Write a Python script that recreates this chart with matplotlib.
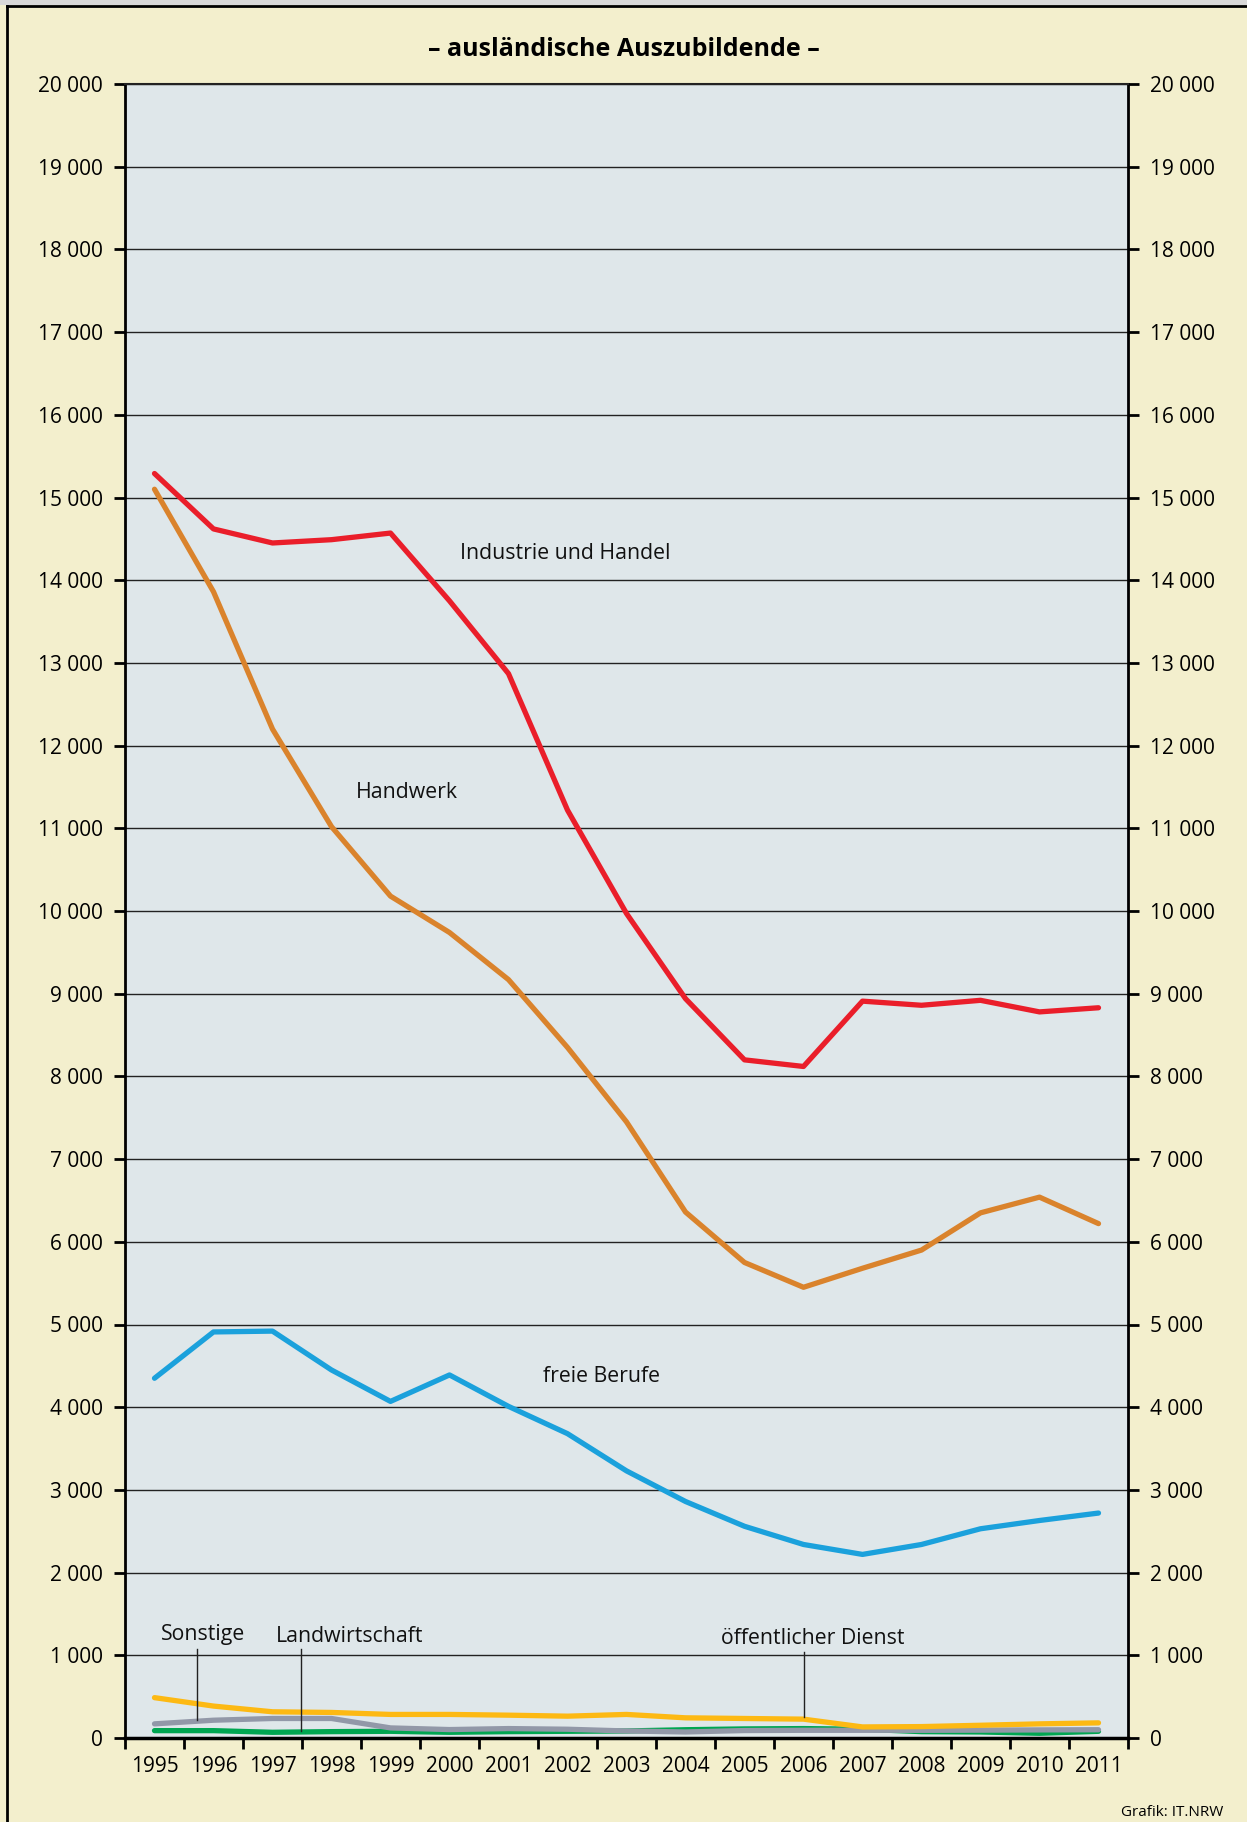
import numpy as np
import matplotlib.pyplot as plt
from matplotlib.lines import Line2D
from matplotlib.patches import Rectangle

plt.rcParams['font.family'] = ['Open Sans', 'DejaVu Sans']

years = ['1995', '1996', '1997', '1998', '1999', '2000', '2001', '2002', '2003',
         '2004', '2005', '2006', '2007', '2008', '2009', '2010', '2011']

industrie = [15290, 14620, 14450, 14490, 14570, 13750, 12870, 11220, 9970,
             8940, 8200, 8120, 8910, 8860, 8920, 8780, 8830]
handwerk = [15100, 13860, 12200, 11020, 10180, 9740, 9170, 8350, 7450,
            6360, 5750, 5450, 5680, 5900, 6350, 6540, 6220]
freie_berufe = [4350, 4910, 4920, 4450, 4070, 4390, 4010, 3680, 3230,
                2860, 2560, 2340, 2220, 2340, 2530, 2630, 2720]
oeffentlich = [488, 386, 317, 309, 285, 285, 276, 264, 285,
               244, 236, 228, 134, 138, 154, 171, 183]
sonstige = [171, 215, 236, 236, 122, 102, 114, 106, 85,
            73, 90, 93, 93, 93, 95, 98, 100]
landwirtschaft = [89, 89, 69, 77, 81, 69, 77, 81, 85,
                  100, 110, 114, 106, 77, 73, 57, 81]

yticks = np.arange(0, 20001, 1000)
ytick_labels = ['0' if v == 0 else '{:,}'.format(v).replace(',', ' ') for v in yticks]

bg_fig = '#F3EFCD'
bg_ax = '#DFE7EA'

fig = plt.figure(figsize=(12.47, 18.22), dpi=100, facecolor=bg_fig)
ax = fig.add_axes([125 / 1247, 1 - 1738 / 1822, 1003 / 1247, 1654 / 1822])
ax.set_facecolor(bg_ax)

x = np.arange(len(years))
lw = 3.8
ax.plot(x, landwirtschaft, color='#00A651', lw=lw, solid_capstyle='round', zorder=3)
ax.plot(x, sonstige, color='#9298A8', lw=lw, solid_capstyle='round', zorder=3)
ax.plot(x, oeffentlich, color='#FDB913', lw=lw, solid_capstyle='round', zorder=3)
ax.plot(x, freie_berufe, color='#1BA1DC', lw=lw, solid_capstyle='round', zorder=3)
ax.plot(x, handwerk, color='#DA832C', lw=lw, solid_capstyle='round', zorder=3)
ax.plot(x, industrie, color='#EA1E2A', lw=lw, solid_capstyle='round', zorder=4)

ax.set_xlim(-0.5, len(years) - 0.5)
ax.set_ylim(0, 20000)

# year labels centred, tick marks between years
ax.set_xticks(np.arange(-0.5, len(years)), minor=False)
ax.set_xticklabels([])
ax.set_xticks(x, minor=True)
ax.set_xticklabels(years, minor=True, fontsize=15)
ax.tick_params(axis='x', which='major', direction='out', length=8, width=2)
ax.tick_params(axis='x', which='minor', length=0, pad=13)

ax.set_yticks(yticks)
ax.set_yticklabels(ytick_labels, fontsize=15)
ax.tick_params(axis='y', which='both', direction='out', length=8, width=2,
               left=True, right=True, labelleft=True, labelright=True, pad=8)

ax.grid(axis='y', color='#222222', lw=1)
ax.set_axisbelow(True)
for side in ['left', 'right']:
    ax.spines[side].set_linewidth(2)
ax.spines['bottom'].set_linewidth(2.5)
ax.spines['top'].set_linewidth(1.5)
ax.spines['top'].set_color('#222222')

# series labels
lab = dict(fontsize=15.3, color='#111111', va='center', ha='left')
ax.text(5.17, 14320, 'Industrie und Handel', **lab)
ax.text(3.41, 11430, 'Handwerk', **lab)
ax.text(6.59, 4370, 'freie Berufe', **lab)
ax.text(0.11, 1250, 'Sonstige', **lab)
ax.text(2.05, 1226, 'Landwirtschaft', **lab)
ax.text(9.6, 1202, 'öffentlicher Dienst', **lab)

# leader lines
ax.plot([0.72, 0.72], [1075, 218], color='#222222', lw=1, zorder=5)
ax.plot([2.49, 2.49], [1075, 85], color='#222222', lw=1, zorder=5)
ax.plot([11.01, 11.01], [1040, 254], color='#222222', lw=1, zorder=5)

fig.text(0.5004, 1 - 50 / 1822, '– ausländische Auszubildende –', fontsize=18,
         fontweight='bold', ha='center', va='center')
fig.text(1223 / 1247, 1 - 1812 / 1822, 'Grafik: IT.NRW', fontsize=11,
         ha='right', va='center')

# frame at top and left edge
fig.patches.append(Rectangle((0, 1 - 5 / 1822), 1, 5 / 1822, transform=fig.transFigure,
                             facecolor='#D8D8D8', edgecolor='none', zorder=0))
fig.lines.append(Line2D([7 / 1247, 7 / 1247], [0, 1 - 6 / 1822], transform=fig.transFigure,
                        color='black', lw=2))
fig.lines.append(Line2D([7 / 1247, 1], [1 - 6 / 1822, 1 - 6 / 1822], transform=fig.transFigure,
                        color='black', lw=2))

fig.savefig('out.png', dpi=100, facecolor=bg_fig)
